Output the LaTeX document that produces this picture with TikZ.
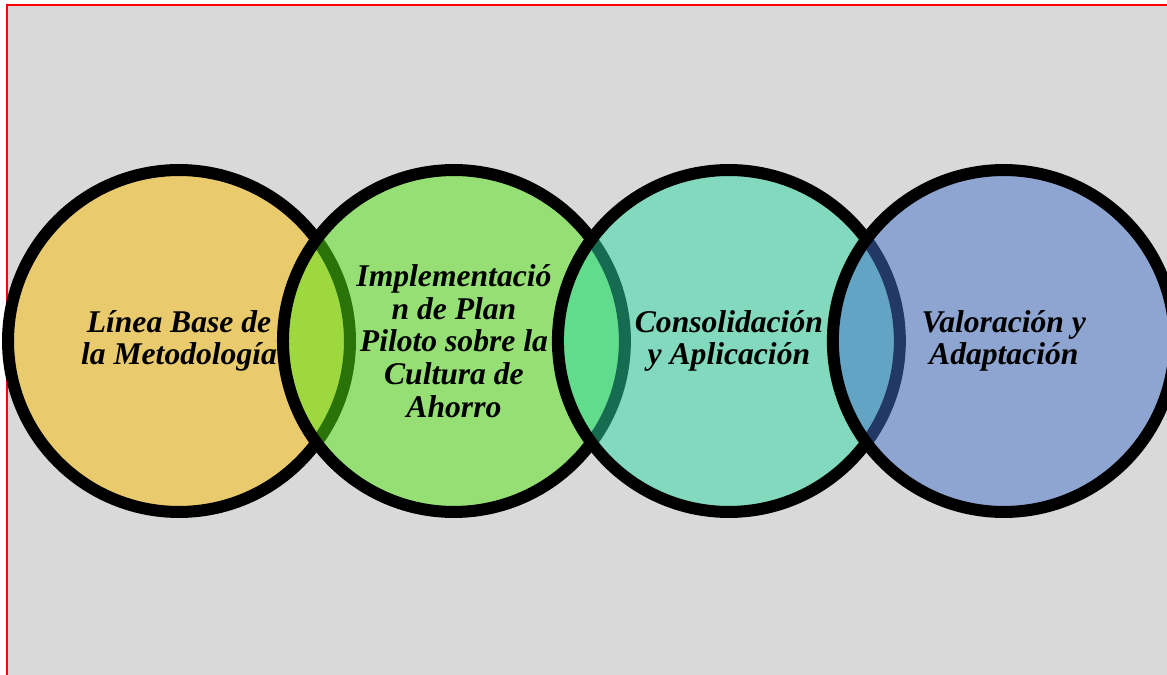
\documentclass[tikz,border=0pt]{standalone}
\usepackage{fontspec}
\setmainfont{Liberation Serif}
\usetikzlibrary{positioning}

\definecolor{fondo}{HTML}{D9D9D9}
\definecolor{oro}{RGB}{250,190,5}
\definecolor{verde}{RGB}{84,230,18}
\definecolor{turquesa}{RGB}{45,217,163}
\definecolor{azul}{RGB}{69,113,203}

\begin{document}
\begin{tikzpicture}[x=0.02cm, y=-0.02cm, node distance=5.5cm, on grid,
    etapa/.style={circle, draw=black, line width=0.24cm, minimum size=6.84cm,
      inner sep=0pt, fill opacity=0.5, text opacity=1, align=center,
      font=\fontsize{18}{18.6}\selectfont\bfseries\itshape}]
   \clip (0,0) rectangle (1167,675);
   \fill[white] (0,0) rectangle (1167,675);
   \draw[red, line width=0.04cm, fill=fondo] (7,5) rectangle (1200,700);

   \node[etapa, fill=oro] (base) at (179,341) {Línea Base de\\la Metodología};
   \node[etapa, fill=verde] (piloto) [right=of base]
      {Implementació\\n de Plan\\Piloto sobre la\\Cultura de\\Ahorro};
   \node[etapa, fill=turquesa] (consolidacion) [right=of piloto]
      {Consolidación\\y Aplicación};
   \node[etapa, fill=azul] (valoracion) [right=of consolidacion]
      {Valoración y\\Adaptación};
\end{tikzpicture}
\end{document}
